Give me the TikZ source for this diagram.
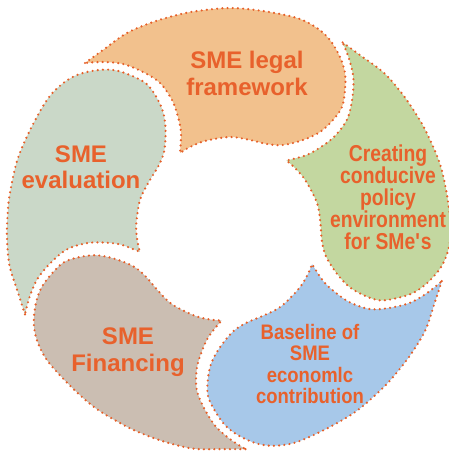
\documentclass[tikz,border=0pt]{standalone}
\usepackage{fontspec}
\setmainfont{Liberation Sans}
\newfontfamily\narrowA{Liberation Sans}[FakeStretch=0.84]
\newfontfamily\narrowB{Liberation Sans}[FakeStretch=0.88]
\definecolor{txt}{HTML}{E8612C}
\definecolor{dotc}{HTML}{E65F28}
\definecolor{fillO}{HTML}{F2C18D}
\definecolor{fillG}{HTML}{C3D7A0}
\definecolor{fillB}{HTML}{A7C8E9}
\definecolor{fillR}{HTML}{CBBEB2}
\definecolor{fillE}{HTML}{CAD8C8}
\newcommand\petalshape{plot[smooth,tension=0.55] coordinates {(85,63) (103,50) (127,33) (153,22) (177,15) (197,11) (230,8) (263,11) (297,18) (317,28) (330,40) (340,57) (345,73) (345,90) (342,107) (333,120) (320,132) (303,140) (283,145) (267,144) (250,140) (230,137) (205,141) (190,147) (180,153)} -- plot[smooth,tension=0.55] coordinates {(180,153) (181,133) (178,117) (172,100) (160,83) (143,72) (123,64) (103,62) (85,63)} -- cycle}
\begin{document}
\begin{tikzpicture}[x=1pt,y=-1pt,
  petalline/.style={draw=dotc, line width=2.4pt, dash pattern=on 0pt off 5.2pt, line cap=round},
  lbl/.style={text=txt, align=center, inner sep=0pt}]
\useasboundingbox (0,0) rectangle (448,455);
\foreach \k/\col in {0/fillO,1/fillG,2/fillB,3/fillR,4/fillE}{
  \begin{scope}[rotate around={-72*\k:(228,230)}]
    \path[petalline, fill=\col] \petalshape;
  \end{scope}
}
\node[lbl, font={\bfseries\fontsize{24}{27}\selectfont}] (legal) at (247,73) {SME legal\\framework};
\node[lbl, font={\narrowA\bfseries\fontsize{23}{22}\selectfont}] (policy) at (388,197) {Creating\\conducive\\policy\\environment\\for SMe\textquotesingle s};
\node[lbl, font={\narrowB\bfseries\fontsize{21}{21.3}\selectfont}] (baseline) at (310,364) {Baseline of\\SME\\economlc\\contribution};
\node[lbl, font={\bfseries\fontsize{24}{27}\selectfont}] (fin) at (128,352) {SME\\Financing};
\node[lbl, font={\bfseries\fontsize{24}{26}\selectfont}] (eval) at (81,167) {SME\\evaluation};
\end{tikzpicture}
\end{document}
